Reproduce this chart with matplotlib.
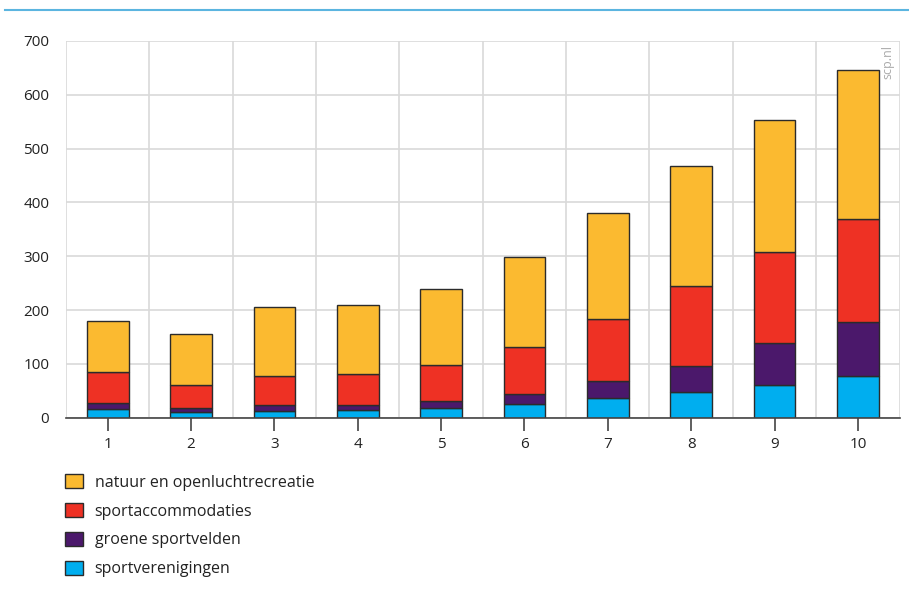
import numpy as np
import matplotlib
matplotlib.use('Agg')
import matplotlib.pyplot as plt
from matplotlib.patches import Patch
from matplotlib.lines import Line2D

plt.rcParams['font.family'] = ['Open Sans', 'DejaVu Sans']

categories = ['1', '2', '3', '4', '5', '6', '7', '8', '9', '10']
sportverenigingen = [16, 11, 13, 15, 18, 26, 36, 48, 61, 77]
groene_sportvelden = [12, 8, 10, 9, 14, 19, 32, 48, 78, 100]
sportaccommodaties = [57, 42, 54, 58, 66, 87, 115, 148, 169, 193]
natuur = [95, 95, 129, 128, 142, 166, 198, 223, 245, 276]

series = [
    ('sportverenigingen', sportverenigingen, '#00AEEF'),
    ('groene sportvelden', groene_sportvelden, '#4B186B'),
    ('sportaccommodaties', sportaccommodaties, '#EE3124'),
    ('natuur en openluchtrecreatie', natuur, '#FBBA30'),
]

fig = plt.figure(figsize=(9.09, 6.02), dpi=100)
ax = fig.add_axes([0.0726, 0.306, 0.917, 0.626])

# blue rule at the top
fig.add_artist(Line2D([0.005, 1.0], [0.983, 0.983], color='#5BB5E0', linewidth=1.5,
                      transform=fig.transFigure))

x = np.arange(1, len(categories) + 1)
bottom = np.zeros(len(categories))
for name, vals, col in series:
    ax.bar(x, vals, width=0.5, bottom=bottom, color=col, edgecolor='#2b2b2b',
           linewidth=1.0, zorder=3, label=name)
    bottom += np.array(vals)

ax.set_xlim(0.5, 10.5)
ax.set_ylim(0, 700)
ax.set_yticks(range(0, 701, 100))
ax.set_xticks(x)
ax.set_xticklabels(categories)
ax.set_xticks(np.arange(0.5, 10.6, 1), minor=True)
ax.grid(True, which='minor', axis='x', color='#d9d9d9', linewidth=1.2, zorder=0)
ax.grid(True, which='major', axis='y', color='#d9d9d9', linewidth=1.2, zorder=0)
ax.tick_params(axis='x', which='minor', length=0)
ax.tick_params(axis='x', which='major', length=9, width=1.2, color='#444444',
               direction='out', labelsize=11, pad=5, labelcolor='#222222')
ax.tick_params(axis='y', length=0, labelsize=11, pad=12, labelcolor='#222222')
for s in ['top', 'right', 'left']:
    ax.spines[s].set_visible(False)
ax.spines['bottom'].set_color('#444444')
ax.spines['bottom'].set_linewidth(1.2)
ax.spines['bottom'].set_zorder(4)

fig.text(0.977, 0.925, 'scp.nl', rotation=90, color='#aaaaaa', fontsize=9,
         ha='center', va='top')

handles = [Patch(facecolor=col, edgecolor='#2b2b2b', linewidth=1.0, label=name)
           for name, vals, col in series[::-1]]
fig.legend(handles=handles, loc='upper left', bbox_to_anchor=(0.0558, 0.236),
           frameon=False, fontsize=11.5, handlelength=1.1, handleheight=0.95,
           handletextpad=0.75, labelspacing=0.78, labelcolor='#222222')

fig.savefig('out.png', dpi=100)
